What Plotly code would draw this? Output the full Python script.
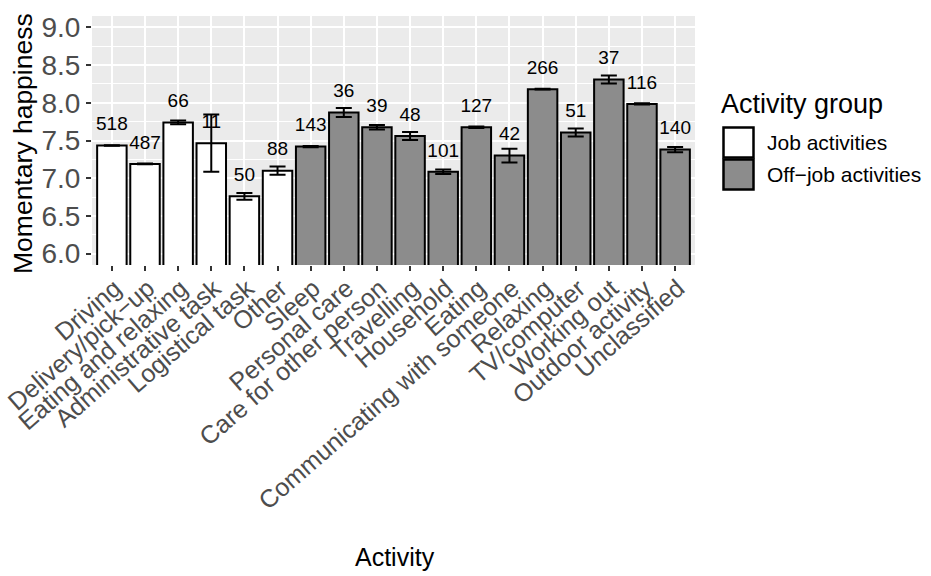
import plotly.graph_objects as go

# ---------------- data ----------------
activities = [
    "Driving", "Delivery/pick\u2212up", "Eating and relaxing", "Administrative task",
    "Logistical task", "Other", "Sleep", "Personal care", "Care for other person",
    "Travelling", "Household", "Eating", "Communicating with someone", "Relaxing",
    "TV/computer", "Working out", "Outdoor activity", "Unclassified",
]
job_activities = activities[:6]
offjob_activities = activities[6:]

job_mean = [7.434, 7.19, 7.74, 7.465, 6.76, 7.10]
job_se = [0.004, 0.004, 0.025, 0.38, 0.045, 0.055]
job_n = [518, 487, 66, 11, 50, 88]

offjob_mean = [7.42, 7.87, 7.675, 7.56, 7.085, 7.675, 7.30, 8.18, 7.605, 8.31, 7.985, 7.38]
offjob_se = [0.008, 0.06, 0.03, 0.053, 0.03, 0.01, 0.09, 0.005, 0.053, 0.053, 0.008, 0.035]
offjob_n = [143, 36, 39, 48, 101, 127, 42, 266, 51, 37, 116, 140]

group_names = ["Job activities", "Off\u2212job activities"]
group_colors = ["#FFFFFF", "#8C8C8C"]

y_ticks = [6.0, 6.5, 7.0, 7.5, 8.0, 8.5, 9.0]
y_tick_labels = ["6.0", "6.5", "7.0", "7.5", "8.0", "8.5", "9.0"]
y_range = [5.85, 9.15]
label_offset = 0.265  # count labels sit this far above the bar top (data units)

# ---------------- layout geometry ----------------
W, H = 931, 576
ML, MR, MT, MB = 92, 236, 16, 311
PW, PH = W - ML - MR, H - MT - MB
FONT = "Liberation Sans, Arial, Helvetica, sans-serif"


def px_x(px):
    return (px - ML) / PW


def px_y(py):
    return (H - MB - py) / PH


fig = go.Figure()

for name, color, xs, ms, ses in [
    (group_names[0], group_colors[0], job_activities, job_mean, job_se),
    (group_names[1], group_colors[1], offjob_activities, offjob_mean, offjob_se),
]:
    fig.add_trace(go.Bar(
        x=xs, y=ms, name=name,
        marker=dict(color=color, line=dict(color="black", width=2)),
        error_y=dict(type="data", array=ses, visible=True,
                     color="black", thickness=2, width=8),
        showlegend=False,
    ))

all_means = job_mean + offjob_mean
all_n = job_n + offjob_n
fig.add_trace(go.Scatter(
    x=activities,
    y=[m + label_offset for m in all_means],
    text=[str(n) for n in all_n],
    mode="text",
    textposition="middle center",
    textfont=dict(family=FONT, size=19, color="black"),
    showlegend=False,
    hoverinfo="skip",
    cliponaxis=False,
))

fig.update_layout(
    width=W, height=H,
    margin=dict(l=ML, r=MR, t=MT, b=MB, autoexpand=False),
    paper_bgcolor="white",
    plot_bgcolor="#EBEBEB",
    barmode="overlay",
    bargap=0.11,
    font=dict(family=FONT, color="black"),
    showlegend=False,
    xaxis=dict(
        categoryorder="array", categoryarray=activities,
        range=[-0.6, len(activities) - 0.4],
        automargin=False,
        showgrid=True, gridcolor="white", gridwidth=2,
        zeroline=False, showline=False,
        ticks="outside", ticklen=5, tickwidth=2, tickcolor="#333333",
        tickangle=-41,
        ticklabelstandoff=-7,
        ticklabelshift=3,
        tickfont=dict(family=FONT, size=25, color="#4D4D4D"),
    ),
    yaxis=dict(
        range=y_range,
        automargin=False,
        tickvals=y_ticks, ticktext=y_tick_labels,
        showgrid=True, gridcolor="white", gridwidth=2,
        minor=dict(dtick=0.25, tick0=6.0, showgrid=True, gridcolor="white",
                   gridwidth=1, ticks=""),
        zeroline=False, showline=False,
        ticks="outside", ticklen=5, tickwidth=2, tickcolor="#333333",
        tickfont=dict(family=FONT, size=28, color="#4D4D4D"),
    ),
)

# axis titles
fig.add_annotation(text="Activity", xref="paper", yref="paper",
                   x=px_x(394.5), y=px_y(557), xanchor="center", yanchor="middle",
                   showarrow=False, font=dict(family=FONT, size=25, color="black"))
fig.add_annotation(text="Momentary happiness", xref="paper", yref="paper",
                   x=px_x(23), y=px_y(144), xanchor="center", yanchor="middle",
                   textangle=-90, showarrow=False,
                   font=dict(family=FONT, size=26.5, color="black"))

# legend (drawn manually to match the large ggplot keys)
fig.add_annotation(text="Activity group", xref="paper", yref="paper",
                   x=px_x(719), y=px_y(104), xanchor="left", yanchor="middle",
                   showarrow=False, font=dict(family=FONT, size=27, color="black"))
key_tops = [127.5, 159.5]
for name, color, top in zip(group_names, group_colors, key_tops):
    fig.add_shape(type="rect", xref="paper", yref="paper",
                  x0=px_x(723.5), x1=px_x(753.5), y0=px_y(top), y1=px_y(top + 30),
                  fillcolor=color, line=dict(color="black", width=2.5))
    fig.add_annotation(text=name, xref="paper", yref="paper",
                       x=px_x(765), y=px_y(top + 15), xanchor="left", yanchor="middle",
                       showarrow=False, font=dict(family=FONT, size=21, color="black"))

fig.write_html("out.html", config={"displayModeBar": False},
               post_script="document.body.style.margin='0';")
